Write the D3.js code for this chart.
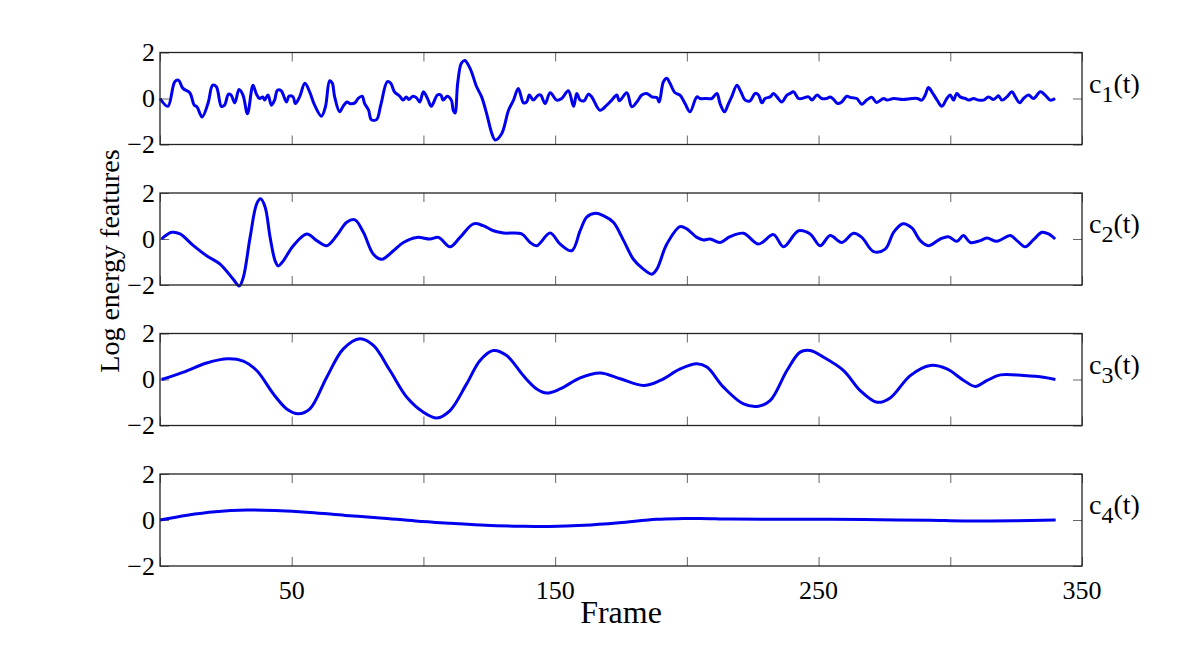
<!DOCTYPE html>
<html>
<head>
<meta charset="utf-8">
<script src="https://cdn.jsdelivr.net/npm/d3@7"></script>
<style>
  body { margin: 0; background: #fff; }
  text { font-family: "Liberation Serif", "Times New Roman", serif; fill: #000; }
</style>
</head>
<body>
<svg id="chart" width="1200" height="650"></svg>
<script>
// frames and values
var c1Frames = [0,3,5.6,7,8.7,11.3,13,14,16,18.2,20,21.4,23.3,24.5,26,27,28.4,30,31.5,33.2,35.3,36.6,37.8,39,39.7,41,42.3,43.5,44.6,46,48,49,50.5,51.4,53,55,56.8,58.7,61.3,62.8,64.4,65.4,66.3,68.2,69.5,71,72,74,75.2,76.7,77.7,79.2,80.2,82.2,83.8,86.3,87.6,89,91,92.3,93.5,94.4,96,97.3,98.6,100,101.8,103,105.3,106.6,107.5,109,110.6,111.3,112,113,114.4,115.7,117.7,120.2,122.1,124,126,127.2,129.7,132.3,134.2,136,138,139.2,140.2,141.7,143.6,144.5,146.2,148.1,150.6,152.5,155,157,158.2,159.5,161,162.6,163.9,167,169.6,171.5,173.4,174.4,177.2,179.1,181,182.9,184.8,186.7,188.6,189.5,191.1,192.4,193.6,195.5,197.4,199.3,201.2,203.8,205,207.6,209.5,211.4,212.6,214.3,215.8,217,219,220.5,222.1,224,225.9,227.2,228.5,229.7,231.6,232.9,234.2,236,238,239.2,240.5,242.4,243.7,246.2,247.5,249.4,251.2,253,254.4,255.7,257.2,258.8,260.7,262,264.5,266.4,268.3,270.2,272,274.7,276,278.5,282,285.4,287.5,289.2,290.5,291.7,293,295,296.8,298.7,300,301.2,302.5,303.8,305.7,307,308.8,310.7,312.6,314.5,316.4,317.7,318.3,319.6,321.5,323.4,324.7,326.3,327.8,329.7,331.6,334.2,336,338,339.8];
var c1Values = [0,-0.34,0.73,0.8,0.44,0.25,-0.29,-0.36,-0.8,-0.22,0.58,0.51,-0.34,-0.29,0.19,0.15,-0.19,0.39,0.15,-0.66,0.58,0.19,0,0.07,-0.07,0.15,-0.29,-0.07,0.36,0.34,-0.15,0.1,0.07,-0.22,0.07,0.66,0.29,-0.29,-0.77,-0.36,0.77,0.66,0.07,-0.58,-0.34,-0.15,-0.22,-0.19,0,0.1,-0.22,-0.51,-0.92,-0.92,-0.29,0.73,0.66,0.29,0.1,-0.07,0.07,-0.04,0.1,0.04,-0.15,0.29,-0.07,-0.34,0.15,0.15,-0.07,0.1,-0.07,-0.51,-0.63,0.66,1.53,1.65,1.31,0.51,0.07,-0.66,-1.53,-1.8,-1.53,-0.51,-0.07,0.44,-0.19,-0.15,0.15,-0.07,0.15,0.15,-0.22,0.25,-0.07,0,0.34,-0.34,0.22,-0.07,-0.1,0.19,0.07,-0.51,-0.29,-0.07,0.15,-0.1,0.25,-0.36,-0.15,0.15,0.22,0.07,0.04,-0.15,0.73,0.88,0.66,0.25,0.15,-0.22,-0.58,0.07,0,0,0,0.22,-0.22,-0.58,-0.22,0.07,0.58,0.29,-0.07,-0.1,0.22,0.15,-0.19,0,0.07,0.22,0.07,-0.15,0.15,0.22,0.29,0,0,0.07,-0.07,0.15,0,0,0.07,-0.04,-0.22,-0.15,0.1,0.05,0,-0.25,-0.07,0.05,-0.17,0,-0.07,0,-0.04,0,0,-0.07,0.15,0.48,0.29,-0.07,-0.34,0,0.15,-0.07,0.22,0.07,0,-0.07,0,-0.07,-0.07,0.07,-0.04,0.07,0.12,-0.07,0.07,0.29,0.07,-0.19,0,0.15,0,0.29,0.15,-0.07,0];

var c2Frames = [0.6,4.4,7.6,12.7,17.7,22.8,27.8,30.1,31.6,34.2,36.7,38.2,39.9,41.8,43.7,44.9,46.8,50.6,55.7,59.5,63.3,67.1,70.9,74,77.2,81,84.2,88.6,92.4,97.5,102.5,105.7,110.1,113.9,119,122.7,126.6,130.4,137.3,140.5,143,148.1,151.9,156.3,159.5,162,165.2,168.3,172.1,176,179.7,183.5,186.7,188.6,192.4,197.4,200,203.8,206.3,208.8,212.6,216.4,221.5,227.2,232.9,236.7,242.4,246.8,250.6,254.4,258.8,263.3,266.4,270.9,275.3,278.5,282,285.4,288.6,291.7,296.2,299.3,302.5,305,307.6,311.4,313.9,317.7,322.8,325.3,328.5,331.6,334.8,337.3,339.8];
var c2Values = [0,0.29,0.22,-0.29,-0.73,-1.09,-1.75,-2.04,-1.68,0.07,1.53,1.75,1.39,0.07,-0.95,-1.17,-0.95,-0.29,0.22,-0.07,-0.29,0.15,0.73,0.83,0.29,-0.66,-0.88,-0.51,-0.15,0.07,0,0.07,-0.34,0.07,0.66,0.58,0.36,0.26,0.22,-0.15,-0.29,0.26,-0.22,-0.51,0.36,0.95,1.12,1.02,0.73,-0.07,-0.88,-1.31,-1.53,-1.31,-0.22,0.54,0.44,0.07,-0.04,0,-0.15,0.1,0.25,-0.22,0.19,-0.34,0.36,0.22,-0.29,0.15,-0.15,0.25,0.07,-0.55,-0.44,0.29,0.66,0.48,-0.07,-0.29,0,0.1,-0.1,0.15,-0.15,-0.07,0.04,-0.1,0.15,-0.07,-0.34,-0.03,0.29,0.22,0];

var c3Frames = [0.6,8.9,17.7,25.9,31.6,36.7,43,48.1,52.5,56.9,63.3,69.6,75.9,81,87.3,93.7,100,105.1,110.1,116.4,121.5,126.5,131.6,137.9,143,146.8,151.9,159.5,167.1,174.7,183.5,189.9,197.5,203.8,207.6,213.9,221.5,227.2,231.7,238,243,246.8,251.9,259.5,265.8,272.2,277.2,284.8,292.4,298.7,305.1,309.5,314,319,327.9,335.4,339.9];
var c3Values = [0,0.32,0.72,0.9,0.8,0.39,-0.62,-1.28,-1.49,-1.28,0.1,1.33,1.77,1.48,0.39,-0.77,-1.42,-1.67,-1.35,-0.19,0.83,1.26,1.04,0.17,-0.41,-0.59,-0.41,0.07,0.28,0.03,-0.26,-0.04,0.46,0.68,0.54,-0.33,-1.06,-1.16,-0.91,0.39,1.19,1.26,0.97,0.39,-0.48,-0.99,-0.8,0.17,0.61,0.46,-0.04,-0.3,-0.04,0.2,0.17,0.1,0];

var c4Frames = [0,10.3,21,33,43.6,57,70.3,83.6,97,110.3,123.6,137,147.6,161,174.3,188.5,198.7,205,216.4,235.4,254.3,273.3,292.3,305,324,340];
var c4Values = [0,0.21,0.36,0.43,0.41,0.33,0.2,0.09,-0.04,-0.14,-0.23,-0.27,-0.28,-0.23,-0.12,0.03,0.06,0.07,0.04,0.03,0.03,0.01,-0.01,-0.04,-0.03,0];

var seriesNames = ["1", "2", "3", "4"];
var xTicks = [0, 50, 100, 150, 200, 250, 300, 350];
var xTickLabels = ["", "50", "", "150", "", "250", "", "350"];
var yTicks = [-2, 0, 2];

var series = [
  {name: seriesNames[0], frames: c1Frames, values: c1Values},
  {name: seriesNames[1], frames: c2Frames, values: c2Values},
  {name: seriesNames[2], frames: c3Frames, values: c3Values},
  {name: seriesNames[3], frames: c4Frames, values: c4Values}
];

var svg = d3.select("#chart");
svg.append("rect").attr("width", 1200).attr("height", 650).attr("fill", "#fff");

var left = 160, right = 1082, panelH = 92, panelGap = 140.5, top0 = 52.5;
var tickLen = 9;

var x = d3.scaleLinear().domain([0, 350]).range([left, right]);

series.forEach(function(s, i) {
  var top = top0 + i * panelGap;
  var y = d3.scaleLinear().domain([-2, 2]).range([top + panelH, top]);
  var g = svg.append("g");

  // inward ticks on all four sides
  g.append("g").attr("transform", "translate(0," + (top + panelH) + ")")
    .call(d3.axisTop(x).tickValues(xTicks).tickSize(tickLen).tickFormat(""));
  g.append("g").attr("transform", "translate(0," + top + ")")
    .call(d3.axisBottom(x).tickValues(xTicks).tickSize(tickLen).tickFormat(""));
  g.append("g").attr("transform", "translate(" + left + ",0)")
    .call(d3.axisRight(y).tickValues(yTicks).tickSize(tickLen).tickFormat(""));
  g.append("g").attr("transform", "translate(" + right + ",0)")
    .call(d3.axisLeft(y).tickValues(yTicks).tickSize(tickLen).tickFormat(""));
  g.selectAll(".domain").remove();
  g.selectAll(".tick line").attr("stroke", "#666").attr("stroke-width", 1);

  // y tick labels
  g.selectAll(".ylab").data(yTicks).enter().append("text")
    .attr("x", left - 5)
    .attr("y", function(d) { return y(d); })
    .attr("dy", "0.33em")
    .attr("text-anchor", "end")
    .style("font-size", "26px")
    .text(function(d) { return d < 0 ? "\u2212" + Math.abs(d) : d; });

  var pts = s.frames.map(function(f, k) { return [f, s.values[k]]; });
  var line = d3.line()
    .x(function(d) { return x(d[0]); })
    .y(function(d) { return y(d[1]); })
    .curve(d3.curveCatmullRom.alpha(0.5));

  g.append("path")
    .datum(pts)
    .attr("d", line)
    .attr("fill", "none")
    .attr("stroke", "#0000ee")
    .attr("stroke-width", 3)
    .attr("stroke-linejoin", "round");

  g.append("rect")
    .attr("x", left).attr("y", top)
    .attr("width", right - left).attr("height", panelH)
    .attr("fill", "none").attr("stroke", "#222").attr("stroke-width", 1.3);

  // right-hand label c_i(t)
  var lab = g.append("text")
    .attr("x", right + 7)
    .attr("y", y(0) - 6)
    .style("font-size", "28px");
  lab.append("tspan").text("c");
  lab.append("tspan").attr("dy", 9).style("font-size", "24px").text(s.name);
  lab.append("tspan").attr("dy", -9).text("(t)");

  if (i === series.length - 1) {
    svg.selectAll(".xlab").data(xTicks).enter().append("text")
      .attr("x", function(d) { return x(d); })
      .attr("y", top + panelH + 33)
      .attr("text-anchor", "middle")
      .style("font-size", "26px")
      .text(function(d, k) { return xTickLabels[k]; });
  }
});

svg.append("text")
  .attr("x", (left + right) / 2)
  .attr("y", 623)
  .attr("text-anchor", "middle")
  .style("font-size", "32px")
  .text("Frame");

svg.append("text")
  .attr("transform", "translate(119,261) rotate(-90)")
  .attr("text-anchor", "middle")
  .style("font-size", "28px")
  .text("Log energy features");
</script>
</body>
</html>
